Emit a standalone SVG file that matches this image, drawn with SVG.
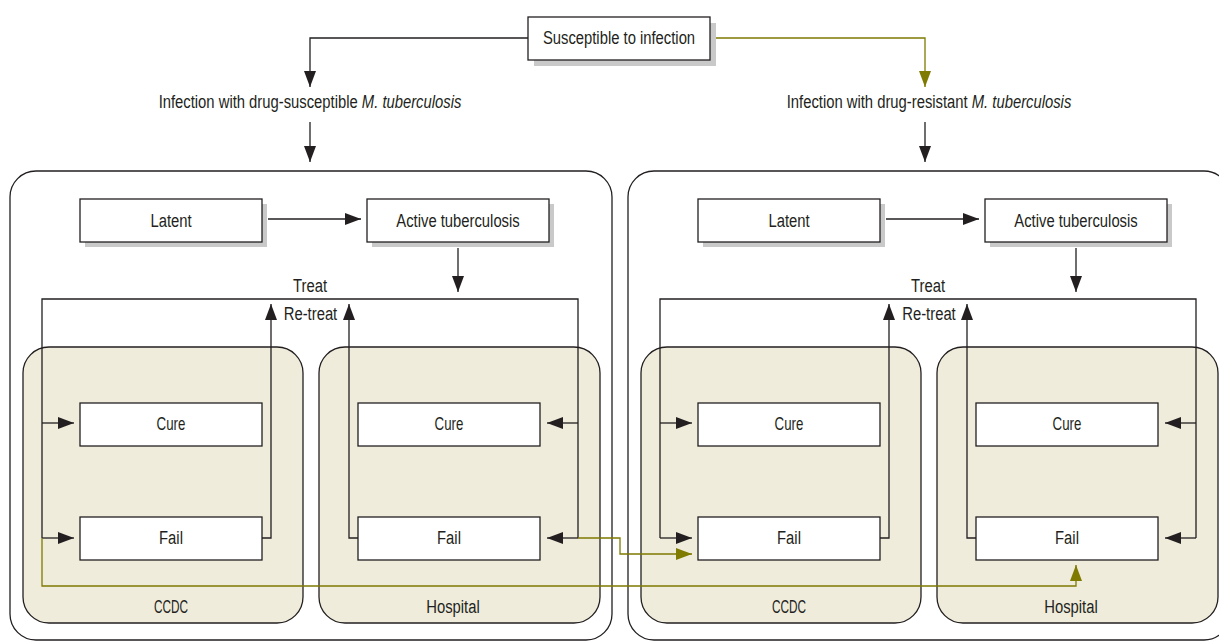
<svg xmlns="http://www.w3.org/2000/svg" width="1219" height="642" viewBox="0 0 1219 642">
<style>
.t{font-family:"Liberation Sans",Arial,sans-serif;font-size:19px;fill:#231f20;text-anchor:middle}
.i{font-style:italic}
.box{fill:#fff;stroke:#231f20;stroke-width:1.3}
.sh{fill:#c9c9c9}
.outer{fill:#fff;stroke:#231f20;stroke-width:1.3}
.sub{fill:#efecdc;stroke:#231f20;stroke-width:1.3}
.ln{fill:none;stroke:#231f20;stroke-width:1.3}
.ol{fill:none;stroke:#7f7a00;stroke-width:1.3}
</style>
<defs>
<marker id="ab" markerUnits="userSpaceOnUse" markerWidth="16" markerHeight="12" refX="16" refY="6" orient="auto"><path d="M0,0 L16,6 L0,12 z" fill="#231f20"/></marker>
<marker id="ao" markerUnits="userSpaceOnUse" markerWidth="16" markerHeight="12" refX="16" refY="6" orient="auto"><path d="M0,0 L16,6 L0,12 z" fill="#7f7a00"/></marker>
</defs>
<rect width="1219" height="642" fill="#fff"/>

<g id="outer-left"><rect class="outer" x="10" y="171" width="602" height="469" rx="26"/></g>
<g id="outer-right"><rect class="outer" x="628" y="171" width="602" height="469" rx="26"/></g>

<g id="ccdc-left"><rect class="sub" x="23" y="347" width="280" height="276" rx="26"/><text class="t" transform="translate(171,613) scale(0.62,1)">CCDC</text></g>
<g id="hospital-left"><rect class="sub" x="319" y="347" width="281" height="276" rx="26"/><text class="t" transform="translate(453,613) scale(0.78,1)">Hospital</text></g>
<g id="ccdc-right"><rect class="sub" x="641" y="347" width="280" height="276" rx="26"/><text class="t" transform="translate(789,613) scale(0.62,1)">CCDC</text></g>
<g id="hospital-right"><rect class="sub" x="937" y="347" width="281" height="276" rx="26"/><text class="t" transform="translate(1071,613) scale(0.78,1)">Hospital</text></g>

<g id="susceptible"><rect class="sh" x="534" y="23" width="182" height="43"/><rect class="box" x="528" y="17" width="182" height="43"/><text class="t" transform="translate(619,44) scale(0.78,1)">Susceptible to infection</text></g>

<g id="infection-susceptible"><text class="t" transform="translate(310,108) scale(0.78,1)">Infection with drug-susceptible <tspan class="i">M. tuberculosis</tspan></text></g>
<g id="infection-resistant"><text class="t" transform="translate(929,108) scale(0.78,1)">Infection with drug-resistant <tspan class="i">M. tuberculosis</tspan></text></g>

<g id="latent-left"><rect class="sh" x="85" y="204" width="182" height="43"/><rect class="box" x="80" y="199" width="182" height="43"/><text class="t" transform="translate(171,227) scale(0.78,1)">Latent</text></g>
<g id="active-left"><rect class="sh" x="372" y="204" width="182" height="43"/><rect class="box" x="367" y="199" width="182" height="43"/><text class="t" transform="translate(458,227) scale(0.78,1)">Active tuberculosis</text></g>
<g id="latent-right"><rect class="sh" x="703" y="204" width="182" height="43"/><rect class="box" x="698" y="199" width="182" height="43"/><text class="t" transform="translate(789,227) scale(0.78,1)">Latent</text></g>
<g id="active-right"><rect class="sh" x="990" y="204" width="182" height="43"/><rect class="box" x="985" y="199" width="182" height="43"/><text class="t" transform="translate(1076,227) scale(0.78,1)">Active tuberculosis</text></g>

<g id="cure-ccdc-left"><rect class="box" x="80" y="403" width="182" height="43"/><text class="t" transform="translate(171,430) scale(0.7,1)">Cure</text></g>
<g id="fail-ccdc-left"><rect class="box" x="80" y="517" width="182" height="43"/><text class="t" transform="translate(171,544) scale(0.78,1)">Fail</text></g>
<g id="cure-hosp-left"><rect class="box" x="358" y="403" width="182" height="43"/><text class="t" transform="translate(449,430) scale(0.7,1)">Cure</text></g>
<g id="fail-hosp-left"><rect class="box" x="358" y="517" width="182" height="43"/><text class="t" transform="translate(449,544) scale(0.78,1)">Fail</text></g>
<g id="cure-ccdc-right"><rect class="box" x="698" y="403" width="182" height="43"/><text class="t" transform="translate(789,430) scale(0.7,1)">Cure</text></g>
<g id="fail-ccdc-right"><rect class="box" x="698" y="517" width="182" height="43"/><text class="t" transform="translate(789,544) scale(0.78,1)">Fail</text></g>
<g id="cure-hosp-right"><rect class="box" x="976" y="403" width="182" height="43"/><text class="t" transform="translate(1067,430) scale(0.7,1)">Cure</text></g>
<g id="fail-hosp-right"><rect class="box" x="976" y="517" width="182" height="43"/><text class="t" transform="translate(1067,544) scale(0.78,1)">Fail</text></g>

<g id="connectors">
<path class="ln" d="M528,38 H310 V87" marker-end="url(#ab)"/>
<path class="ol" d="M716,38 H925 V87" marker-end="url(#ao)"/>
<path class="ln" d="M310,122 V162" marker-end="url(#ab)"/>
<path class="ln" d="M925,122 V162" marker-end="url(#ab)"/>

<path class="ln" d="M268,219 H361" marker-end="url(#ab)"/>
<path class="ln" d="M458,248 V292" marker-end="url(#ab)"/>
<path class="ln" d="M42,538 V299 H578 V538"/>
<path class="ln" d="M42,423 H74" marker-end="url(#ab)"/>
<path class="ln" d="M42,538 H74" marker-end="url(#ab)"/>
<path class="ln" d="M578,423 H547" marker-end="url(#ab)"/>
<path class="ln" d="M578,538 H547" marker-end="url(#ab)"/>
<path class="ln" d="M262,538 H271 V304" marker-end="url(#ab)"/>
<path class="ln" d="M358,538 H349 V304" marker-end="url(#ab)"/>

<path class="ln" d="M886,219 H979" marker-end="url(#ab)"/>
<path class="ln" d="M1076,248 V292" marker-end="url(#ab)"/>
<path class="ln" d="M660,538 V299 H1196 V538"/>
<path class="ln" d="M660,423 H692" marker-end="url(#ab)"/>
<path class="ln" d="M660,538 H692" marker-end="url(#ab)"/>
<path class="ln" d="M1196,423 H1165" marker-end="url(#ab)"/>
<path class="ln" d="M1196,538 H1165" marker-end="url(#ab)"/>
<path class="ln" d="M880,538 H889 V304" marker-end="url(#ab)"/>
<path class="ln" d="M976,538 H967 V304" marker-end="url(#ab)"/>

<path class="ol" d="M578,538 H620 V554 H692" marker-end="url(#ao)"/>
<path class="ol" d="M42,538 V586 H1076 V565" marker-end="url(#ao)"/>

<text class="t" transform="translate(310,292) scale(0.78,1)">Treat</text>
<text class="t" transform="translate(310.5,320) scale(0.78,1)">Re-treat</text>
<text class="t" transform="translate(928,292) scale(0.78,1)">Treat</text>
<text class="t" transform="translate(929,320) scale(0.78,1)">Re-treat</text>
</g>
</svg>
